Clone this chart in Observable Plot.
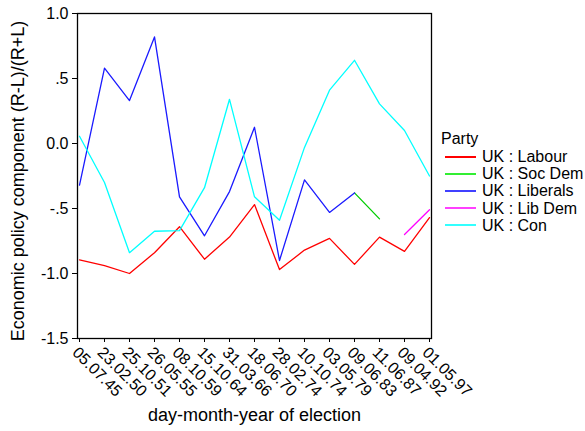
<!DOCTYPE html>
<html>
<head>
<meta charset="utf-8">
<script src="https://cdn.jsdelivr.net/npm/d3@7"></script>
<script src="https://cdn.jsdelivr.net/npm/@observablehq/plot@0.6"></script>
<style>
  html, body { margin: 0; padding: 0; background: #fff; }
  #chart { position: relative; width: 585px; height: 431px; font-family: "Liberation Sans", Arial, sans-serif; }
  #legend { position: absolute; left: 441px; top: 130px; font-size: 16px; color: #000; line-height: 17px; }
  #legend .title { margin-bottom: 1px; }
  #legend .row { display: flex; align-items: center; height: 17.2px; white-space: nowrap; }
  #legend .sw { display: inline-block; width: 31px; height: 2px; margin-left: 4px; margin-right: 6px; }
</style>
</head>
<body>
<div id="chart"></div>
<script>
// Election dates (day.month.year)
const elections = ["05.07.45", "23.02.50", "25.10.51", "26.05.55", "08.10.59", "15.10.64", "31.03.66",
  "18.06.70", "28.02.74", "10.10.74", "03.05.79", "09.06.83", "11.06.87", "09.04.92", "01.05.97"];

// Economic policy component (R-L)/(R+L) per party; null where the party did not stand
const labour   = [-0.895, -0.94, -1.00, -0.84, -0.64, -0.89, -0.72, -0.47, -0.97, -0.82, -0.73, -0.93, -0.72, -0.83, -0.57];
const socDem   = [null, null, null, null, null, null, null, null, null, null, null, -0.38, -0.58, null, null];
const liberals = [-0.32, 0.58, 0.33, 0.82, -0.41, -0.71, -0.37, 0.125, -0.90, -0.28, -0.53, -0.38, null, null, null];
const libDem   = [null, null, null, null, null, null, null, null, null, null, null, null, null, -0.70, -0.51];
const con      = [0.056, -0.30, -0.84, -0.675, -0.67, -0.34, 0.34, -0.41, -0.59, -0.03, 0.41, 0.64, 0.305, 0.10, -0.25];

const parties = ["UK : Labour", "UK : Soc Dem", "UK : Liberals", "UK : Lib Dem", "UK : Con"];
const partyValues = [labour, socDem, liberals, libDem, con];
const partyColors = ["#ff0000", "#00cc00", "#1a1aff", "#ff00ff", "#00ffff"];
const legendColors = ["#ff0000", "#33ee33", "#4040ff", "#ff40ff", "#33ffff"];

const yTicks = [-1.5, -1.0, -0.5, 0.0, 0.5, 1.0];
const yTickLabels = ["-1.5", "-1.0", "-.5", "0.0", ".5", "1.0"];

// Long-format rows; null values break the line into separate runs
const rows = [];
parties.forEach((p, i) => {
  partyValues[i].forEach((v, j) => rows.push({party: p, election: elections[j], value: v}));
});

const chart = Plot.plot({
  width: 585,
  height: 431,
  marginLeft: 77,
  marginTop: 13,
  marginRight: 154,
  marginBottom: 93,
  style: {fontFamily: "'Liberation Sans', Arial, sans-serif", fontSize: "16px", color: "#000", background: "#fff"},
  x: {type: "point", domain: elections, padding: 0},
  y: {domain: [-1.5, 1.0]},
  color: {domain: parties, range: partyColors},
  marks: [
    Plot.frame({stroke: "#000", strokeWidth: 1.3}),
    Plot.line(rows, {
      x: "election", y: "value", z: "party", stroke: "party",
      strokeWidth: 1.3, curve: "linear"
    }),
    Plot.axisY({
      ticks: yTicks,
      tickFormat: (d) => yTickLabels[yTicks.indexOf(d)],
      tickSize: 5, tickPadding: 4, fontSize: 16,
      label: null
    }),
    Plot.axisX({
      tickSize: 4, tickPadding: 3, tickRotate: 45,
      textAnchor: "start", lineAnchor: "top", fontSize: 16,
      label: null
    }),
    Plot.text(["day-month-year of election"], {
      frameAnchor: "bottom", dy: 82, fontSize: 18, lineAnchor: "bottom"
    }),
    Plot.text(["Economic policy component (R-L)/(R+L)"], {
      frameAnchor: "left", textAnchor: "middle", dx: -59, dy: 5, rotate: -90, fontSize: 18
    })
  ]
});

const container = document.getElementById("chart");
container.appendChild(chart);

// Legend to the right of the plotting area
const legend = document.createElement("div");
legend.id = "legend";
const title = document.createElement("div");
title.className = "title";
title.textContent = "Party";
legend.appendChild(title);
parties.forEach((p, i) => {
  const row = document.createElement("div");
  row.className = "row";
  const sw = document.createElement("span");
  sw.className = "sw";
  sw.style.background = legendColors[i];
  const label = document.createElement("span");
  label.textContent = p;
  row.appendChild(sw);
  row.appendChild(label);
  legend.appendChild(row);
});
container.appendChild(legend);
</script>
</body>
</html>
